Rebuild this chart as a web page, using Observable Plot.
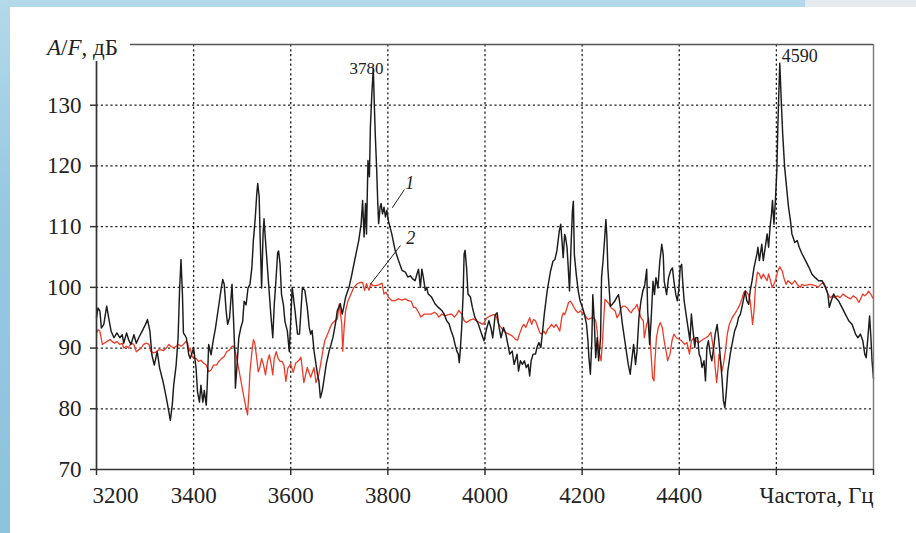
<!DOCTYPE html>
<html><head><meta charset="utf-8">
<script src="https://cdn.jsdelivr.net/npm/d3@7"></script>
<script src="https://cdn.jsdelivr.net/npm/@observablehq/plot@0.6"></script>
<style>
html,body{margin:0;padding:0;width:916px;height:533px;overflow:hidden;}
body{position:relative;background:linear-gradient(180deg,#b3d9ea 0%,#96c8e0 40%,#8ec3dd 100%);font-family:"Liberation Serif",serif;}
#topgray{position:absolute;left:805px;top:0;width:111px;height:7px;background:#e4eaed;}
#panel{position:absolute;left:10px;top:7px;right:0;bottom:0;background:#fff;}
#chart{position:absolute;left:0;top:0;}
#ylab{position:absolute;left:47px;top:36px;font-size:23px;line-height:1;color:#222;white-space:nowrap;}
</style></head>
<body>
<div id="topgray"></div>
<div id="panel"></div>
<div id="chart"></div>
<div id="ylab"><i>A</i>/<i>F</i>, дБ</div>
<script>
// Curve 1 (black): frequency, Hz / level, dB
const freq1 = [3200,3203,3207,3210,3215,3221,3225,3230,3236,3242,3248,3253,3256,3262,3266,3271,3277,3282,3287,3294,3301,3305,3310,3314,3319,3325,3330,3337,3344,3349,3352,3356,3359,3364,3368,3371,3374,3377,3379,3385,3390,3393,3400,3405,3408,3412,3415,3419,3422,3426,3428,3431,3436,3440,3445,3451,3457,3460,3463,3467,3470,3474,3477,3479,3482,3485,3486,3489,3493,3497,3501,3504,3508,3512,3516,3520,3523,3527,3530,3532,3535,3537,3540,3543,3545,3547,3551,3555,3559,3563,3566,3569,3573,3575,3578,3581,3585,3588,3593,3597,3603,3609,3614,3618,3624,3629,3634,3638,3641,3644,3648,3651,3655,3658,3661,3665,3669,3673,3679,3683,3687,3692,3696,3699,3702,3706,3709,3713,3720,3726,3733,3740,3745,3748,3751,3754,3756,3759,3762,3764,3767,3770,3772,3774,3777,3779,3781,3784,3786,3789,3792,3795,3798,3801,3808,3815,3822,3829,3836,3841,3846,3851,3856,3860,3863,3867,3870,3873,3877,3880,3883,3890,3897,3904,3911,3916,3921,3926,3930,3935,3938,3942,3945,3947,3949,3952,3955,3957,3959,3962,3965,3970,3974,3979,3986,3993,3998,4004,4008,4012,4016,4021,4025,4029,4033,4038,4043,4047,4051,4056,4060,4066,4069,4073,4077,4081,4085,4089,4092,4095,4099,4104,4107,4111,4115,4118,4122,4128,4135,4140,4144,4148,4153,4156,4158,4161,4164,4166,4169,4171,4174,4177,4180,4182,4184,4188,4192,4196,4201,4205,4209,4212,4214,4217,4220,4222,4225,4228,4231,4234,4238,4240,4243,4246,4249,4251,4253,4256,4258,4262,4267,4271,4275,4279,4283,4287,4291,4295,4299,4302,4306,4310,4313,4317,4321,4325,4329,4333,4335,4339,4342,4346,4349,4352,4356,4360,4364,4367,4369,4374,4378,4382,4386,4389,4393,4396,4399,4402,4405,4407,4410,4414,4418,4422,4425,4427,4432,4434,4438,4441,4444,4447,4451,4454,4457,4460,4464,4467,4471,4474,4478,4481,4484,4488,4491,4494,4497,4500,4505,4510,4514,4519,4522,4526,4529,4533,4536,4539,4543,4546,4550,4554,4557,4560,4562,4565,4568,4570,4573,4576,4579,4581,4584,4587,4590,4592,4595,4598,4601,4603,4605,4607,4610,4613,4617,4621,4625,4629,4632,4638,4643,4647,4653,4660,4667,4673,4680,4687,4694,4701,4706,4709,4713,4718,4722,4728,4735,4742,4749,4756,4763,4768,4773,4778,4782,4785,4789,4792,4795,4797,4800];
const db1 = [95.0,96.6,96.1,93.3,93.9,96.9,95.0,92.8,91.7,92.5,91.7,92.2,90.8,92.5,91.4,90.6,92.2,90.8,91.7,92.8,93.9,94.7,92.8,88.9,87.2,89.4,86.7,84.5,81.7,79.5,78.1,80.6,83.9,87.2,91.7,99.4,104.6,98.8,92.5,91.7,88.9,88.3,90.0,86.7,82.8,81.1,83.9,81.1,83.0,80.6,83.9,90.6,88.9,91.1,93.3,96.6,99.9,101.3,100.5,96.1,93.9,95.0,98.3,100.5,95.0,88.9,83.4,86.7,91.7,93.3,94.4,97.7,97.1,99.9,100.5,103.3,107.7,111.5,115.4,117.1,114.9,108.2,99.9,108.8,111.3,108.8,104.4,99.9,95.5,91.7,97.1,100.5,105.7,106.0,103.8,98.8,97.1,94.4,92.8,89.4,100.0,96.0,92.3,92.3,100.0,99.5,96.7,93.4,92.3,92.9,89.5,87.9,85.7,84.6,81.8,83.0,85.1,87.3,89.5,90.6,91.8,94.0,96.2,96.7,97.3,95.6,96.7,98.4,100.0,102.2,105.0,107.7,110.5,114.3,108.3,113.8,108.8,120.9,118.2,126.4,131.9,136.1,130.3,125.3,119.3,114.3,110.5,113.2,113.8,112.1,113.2,111.6,112.7,111.0,108.8,106.1,104.4,102.8,102.5,101.7,101.9,101.4,101.1,102.2,103.0,100.0,103.0,101.7,99.5,100.0,98.9,98.4,97.3,96.7,96.2,95.6,94.5,94.0,92.9,91.8,90.7,89.5,89.0,87.6,89.5,93.4,98.9,105.5,106.1,103.3,98.9,98.4,96.7,95.1,94.0,92.3,91.2,93.4,94.5,93.4,91.7,95.5,95.8,93.4,91.7,93.4,92.3,90.6,89.0,89.5,87.3,89.0,86.2,87.9,87.3,87.9,86.8,87.3,85.4,87.9,89.0,89.0,90.1,90.9,90.1,92.3,95.5,99.4,102.7,104.3,104.6,106.0,109.3,110.4,108.2,104.9,108.7,108.2,106.5,103.8,99.4,106.5,112.6,114.2,105.4,102.1,99.4,97.7,96.6,95.5,93.9,91.2,88.4,85.7,91.2,98.8,94.5,88.4,91.7,87.9,91.7,101.6,104.3,107.6,111.2,108.2,103.2,99.4,96.9,97.2,97.7,98.3,98.8,96.6,93.9,91.7,89.5,87.3,85.7,87.9,90.6,87.3,89.5,95.0,97.7,99.4,100.4,103.0,96.1,90.6,94.5,101.0,98.8,101.6,99.9,104.3,107.1,105.4,101.0,98.8,101.6,102.7,103.2,101.0,98.8,97.8,99.5,103.3,103.8,101.1,97.8,95.6,93.4,91.2,95.6,93.9,90.1,91.7,91.7,89.0,88.4,86.8,87.9,84.6,90.1,91.2,89.0,87.9,90.1,92.3,93.9,91.7,89.0,85.1,81.3,80.2,82.9,86.2,89.0,91.2,92.8,93.9,95.0,95.6,96.7,98.3,99.4,97.8,97.2,99.4,101.1,103.3,104.4,105.5,106.6,104.4,106.0,107.1,104.4,106.0,107.7,108.8,106.6,109.9,112.1,114.3,110.4,114.3,119.3,126.4,131.9,136.9,130.8,125.3,119.8,116.5,113.2,111.0,108.8,107.4,107.7,106.6,105.5,104.4,103.3,102.2,101.6,101.1,101.1,100.0,98.9,96.7,97.8,98.9,98.3,97.8,96.7,95.6,94.5,93.9,92.3,91.7,92.3,91.2,89.0,88.4,92.3,95.3,91.2,87.9,85.0];

// Curve 2 (red)
const freq2 = [3200,3203,3207,3212,3216,3222,3228,3232,3237,3242,3248,3253,3256,3262,3266,3271,3277,3282,3287,3292,3297,3303,3308,3312,3318,3323,3328,3333,3338,3344,3349,3353,3359,3364,3369,3374,3379,3384,3388,3390,3393,3397,3400,3405,3410,3415,3421,3426,3431,3436,3441,3447,3452,3458,3463,3468,3474,3479,3482,3486,3490,3494,3499,3504,3508,3511,3514,3516,3520,3523,3526,3530,3533,3536,3540,3544,3548,3552,3556,3560,3563,3566,3570,3574,3578,3582,3586,3590,3594,3600,3605,3610,3616,3621,3627,3634,3641,3648,3652,3658,3665,3670,3676,3681,3685,3691,3696,3700,3705,3707,3710,3713,3718,3724,3730,3737,3743,3748,3752,3756,3761,3765,3769,3774,3781,3788,3792,3796,3801,3808,3815,3822,3829,3836,3842,3848,3853,3857,3863,3868,3875,3882,3889,3896,3901,3905,3911,3918,3924,3931,3937,3942,3946,3952,3957,3962,3969,3976,3982,3989,3996,4004,4011,4018,4023,4028,4033,4038,4044,4049,4056,4063,4067,4071,4076,4080,4084,4088,4092,4096,4100,4104,4109,4113,4117,4121,4125,4129,4133,4137,4142,4146,4150,4154,4158,4161,4164,4168,4172,4176,4180,4184,4188,4192,4196,4201,4205,4209,4213,4217,4221,4225,4228,4231,4233,4236,4239,4242,4245,4247,4251,4256,4260,4264,4268,4272,4276,4280,4284,4288,4293,4297,4301,4305,4309,4313,4317,4321,4326,4328,4333,4337,4339,4342,4345,4348,4350,4353,4357,4361,4365,4369,4374,4376,4381,4385,4389,4394,4399,4405,4411,4416,4421,4425,4430,4434,4440,4445,4450,4455,4460,4465,4467,4471,4474,4477,4480,4482,4485,4488,4491,4495,4499,4503,4509,4514,4520,4525,4529,4533,4537,4542,4546,4549,4551,4554,4557,4561,4565,4569,4573,4577,4581,4584,4588,4591,4595,4599,4603,4607,4612,4616,4620,4624,4628,4632,4638,4643,4649,4653,4658,4664,4669,4675,4680,4686,4691,4697,4702,4706,4711,4715,4720,4726,4731,4737,4742,4748,4753,4758,4764,4770,4774,4778,4782,4786,4790,4794,4800];
const db2 = [92.5,93.0,92.8,90.6,90.8,91.1,91.4,91.1,90.8,91.1,90.6,90.8,90.0,90.3,90.0,90.8,90.6,89.4,89.7,90.0,90.6,90.8,90.6,89.4,89.2,89.4,89.7,89.7,89.6,90.0,90.6,90.3,90.0,90.3,90.6,90.3,90.6,91.1,90.8,89.4,90.0,88.6,88.3,88.3,87.8,88.0,87.5,87.2,86.1,86.4,87.2,87.2,87.8,88.3,88.6,89.4,89.7,90.3,90.3,89.4,87.8,86.1,83.9,81.7,80.1,79.0,82.8,86.1,89.4,91.4,90.8,88.3,86.1,86.7,88.3,87.2,85.6,87.8,88.9,87.2,85.6,88.3,89.4,88.3,87.8,87.8,87.2,84.5,86.7,87.4,86.0,87.5,87.9,88.5,84.3,86.8,85.2,86.8,84.3,85.7,89.0,91.2,92.3,93.4,94.0,94.5,94.8,97.3,94.0,89.5,93.4,96.2,97.8,98.9,100.0,100.6,100.8,100.8,99.5,100.6,99.5,100.6,100.3,100.3,100.4,100.7,98.9,99.2,98.4,97.8,97.8,98.1,97.9,98.1,97.8,97.7,96.7,96.7,95.9,95.1,95.6,95.6,95.6,95.9,95.6,95.1,95.6,95.3,95.5,95.6,95.1,95.6,96.2,95.6,94.5,94.2,94.6,94.8,94.5,94.2,93.9,95.0,95.3,95.5,95.3,93.9,93.4,92.8,92.5,92.3,92.0,91.4,91.3,92.3,93.4,93.9,93.4,94.2,95.0,93.9,94.7,94.5,93.4,92.5,92.3,92.8,92.3,93.1,93.4,93.9,93.4,93.9,93.4,92.8,95.0,95.8,95.5,96.4,97.5,97.7,97.2,96.6,96.1,95.8,96.1,95.8,95.5,95.0,94.7,94.9,95.0,94.9,94.5,92.8,90.6,89.0,87.9,91.2,95.5,98.0,97.7,97.2,96.6,96.4,96.1,95.0,95.5,96.6,96.9,96.9,96.6,96.1,95.8,96.4,96.6,97.2,96.1,95.0,94.5,91.7,93.9,95.0,92.3,89.0,85.1,84.6,87.9,91.7,93.4,94.2,93.4,91.2,89.0,87.9,89.0,91.2,92.3,91.7,91.5,91.2,90.6,90.9,89.0,91.2,91.7,91.2,90.9,91.2,91.5,91.7,92.0,92.6,91.7,89.5,86.8,84.3,86.8,89.0,87.9,86.2,87.3,89.5,92.3,93.9,95.0,95.6,96.4,97.2,98.1,99.2,99.4,98.9,97.8,95.6,93.9,96.1,100.0,102.5,102.2,101.4,102.2,101.6,101.1,102.2,101.1,100.0,100.5,101.4,102.7,103.4,102.7,101.4,100.5,101.1,100.8,100.5,101.1,100.5,100.0,100.5,100.3,100.4,100.5,100.4,100.3,100.0,100.5,100.8,100.0,98.9,98.3,98.6,98.3,98.6,98.3,98.9,98.6,98.3,98.1,98.6,98.3,97.5,98.2,98.9,98.6,98.9,99.4,98.9,98.1];

const xTicks = [3200,3400,3600,3800,4000,4200,4400,4600,4800];
const xLabeled = [3400,3600,3800,4000,4200,4400];
const xFirst = [3200];
const yTicks = [70,80,90,100,110,120,130];
const xTitle = "Частота, Гц";
const peakLabels = [
  {f: 3756, db: 136.1, text: "3780"},
  {f: 4611, db: 138.1, text: "4590"}
];
const curveLabels = [
  {f: 3845, db: 117.2, text: "1"},
  {f: 3847, db: 108.1, text: "2"}
];
const leaders = [
  {f1: 3834, d1: 116.1, f2: 3809, d2: 113.1},
  {f1: 3826, d1: 106.9, f2: 3764, d2: 100.5}
];

const s1 = freq1.map((f, i) => ({f, db: db1[i]}));
const s2 = freq2.map((f, i) => ({f, db: db2[i]}));
const FS = 23;

const chart = Plot.plot({
  width: 916,
  height: 533,
  marginLeft: 96,
  marginRight: 43,
  marginTop: 44,
  marginBottom: 64,
  x: {domain: [3200, 4800]},
  y: {domain: [70, 140]},
  style: {background: "transparent", fontFamily: "'Liberation Serif', serif", color: "#222", overflow: "visible"},
  marks: [
    Plot.gridX(xTicks.slice(1, -1), {stroke: "#222", strokeOpacity: 1, strokeWidth: 1.3, strokeDasharray: "2.2,2.6", y1: 70, y2: 140}),
    Plot.gridY(yTicks.slice(1), {stroke: "#222", strokeOpacity: 1, strokeWidth: 1.3, strokeDasharray: "2.2,2.6"}),
    Plot.line(s2, {x: "f", y: "db", stroke: "#ee3b28", strokeWidth: 1.3}),
    Plot.line(s1, {x: "f", y: "db", stroke: "#1c1c1c", strokeWidth: 1.45}),
    Plot.ruleY([70], {stroke: "#333", strokeWidth: 1.7}),
    Plot.ruleX([3200], {y1: 70, y2: 137.2, stroke: "#333", strokeWidth: 1.7}),
    Plot.ruleY([140], {x1: 3270, x2: 4800, stroke: "#555", strokeWidth: 1.3}),
    Plot.ruleX([4800], {y1: 70, y2: 140, stroke: "#777", strokeWidth: 1.4}),
    Plot.axisX({ticks: xTicks, tickFormat: () => "", tickSize: 6, label: null, stroke: "#333", strokeWidth: 1.5}),
    Plot.axisX({ticks: xLabeled, tickFormat: d => String(d), tickSize: 0, tickPadding: 17, fontSize: FS, label: null, fill: "#222"}),
    Plot.text(xFirst, {x: d => d, y: 70, text: d => String(d), dx: 19, dy: 26, fontSize: FS, fill: "#222"}),
    Plot.axisY({ticks: yTicks, tickFormat: d => String(d), tickSize: 6, tickPadding: 9, fontSize: FS, label: null, stroke: "#333", strokeWidth: 1.5, fill: "#222"}),
    Plot.text([xTitle], {x: 4800, y: 70, text: d => d, textAnchor: "end", dy: 26, fontSize: FS, fill: "#222"}),
    Plot.text(peakLabels.slice(0, 1), {x: "f", y: "db", text: "text", textAnchor: "middle", fontSize: 17, fill: "#222"}),
    Plot.text(peakLabels.slice(1), {x: "f", y: "db", text: "text", textAnchor: "start", fontSize: 18, fill: "#222"}),
    Plot.text(curveLabels, {x: "f", y: "db", text: "text", fontSize: 18, fontStyle: "italic", fill: "#222"}),
    Plot.link(leaders, {x1: "f1", y1: "d1", x2: "f2", y2: "d2", stroke: "#222", strokeWidth: 1})
  ]
});
document.getElementById("chart").appendChild(chart);
</script>
</body></html>
